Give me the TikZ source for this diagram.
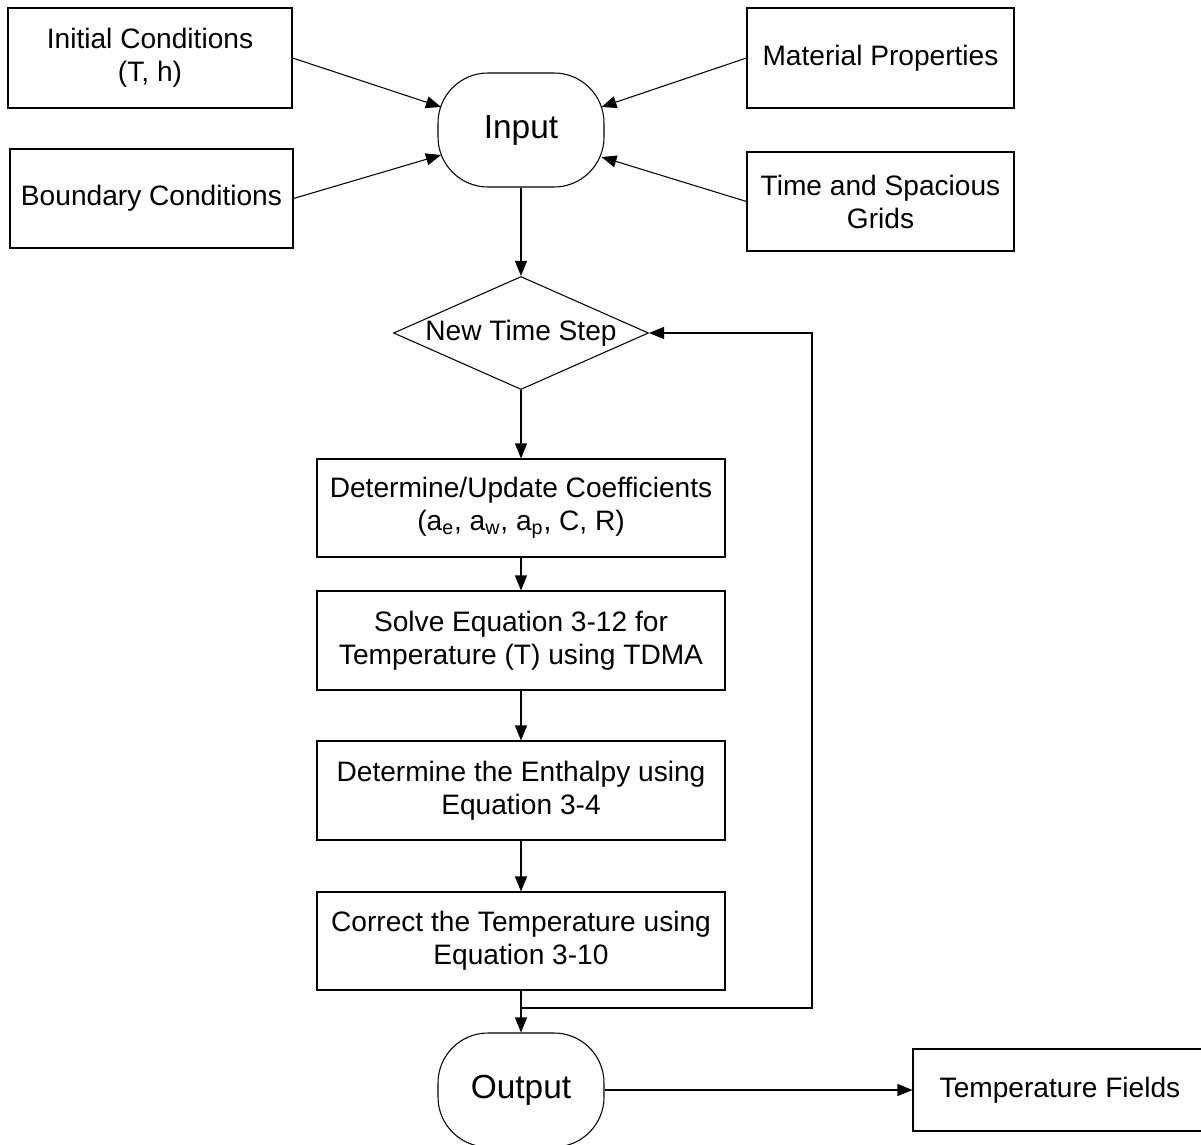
\documentclass[tikz,border=0pt]{standalone}
\usepackage{fontspec}
\setmainfont{Liberation Sans}
\usetikzlibrary{arrows.meta,shapes.geometric,calc}

\tikzset{
  box/.style={draw, line width=0.6pt, inner sep=0pt, align=center,
    font=\fontsize{16}{18.8}\selectfont},
  terminal/.style={draw, line width=0.6pt, rounded corners=1.0cm,
    minimum width=3.32cm, minimum height=2.28cm, font=\fontsize{19}{22}\selectfont},
  decision/.style={draw, line width=0.6pt, shape=diamond, aspect=2.26, inner sep=0pt,
    minimum width=5.10cm, minimum height=2.26cm, font=\fontsize{16}{18.8}\selectfont},
  arrow/.style={line width=0.6pt, -{Triangle[length=0.3cm,width=0.24cm]}}
}

\begin{document}
\begin{tikzpicture}
  \useasboundingbox (0,0) rectangle (24.02,-22.90);

  % Draw inputs
  \node (init) [box, minimum width=5.68cm, minimum height=2.0cm] at (3.00,-1.16) {Initial Conditions\\(T, h)};
  \node (bound) [box, minimum width=5.66cm, minimum height=1.98cm] at (3.03,-3.97) {Boundary Conditions};
  \node (mat) [box, minimum width=5.34cm, minimum height=2.0cm] at (17.61,-1.16) {Material Properties};
  \node (grid) [box, minimum width=5.34cm, minimum height=1.98cm] at (17.61,-4.03) {Time and Spacious\\Grids};
  \node (input) [terminal] at (10.42,-2.60) {Input};

  % Draw process
  \node (step) [decision] at (10.42,-6.66) {New Time Step};
  \node (coef) [box, minimum width=8.16cm, minimum height=1.96cm] at (10.42,-10.16)
    {Determine/Update Coefficients\\(a\textsubscript{e}, a\textsubscript{w}, a\textsubscript{p}, C, R)};
  \node (solve) [box, minimum width=8.16cm, minimum height=1.98cm] at (10.42,-12.81)
    {Solve Equation 3-12 for\\Temperature (T) using TDMA};
  \node (enth) [box, minimum width=8.16cm, minimum height=1.98cm] at (10.42,-15.81)
    {Determine the Enthalpy using\\Equation 3-4};
  \node (corr) [box, minimum width=8.16cm, minimum height=1.96cm] at (10.42,-18.82)
    {Correct the Temperature using\\Equation 3-10};
  \node (output) [terminal] at (10.42,-21.80) {Output};
  \node (tempf) [box, minimum width=5.88cm, minimum height=1.64cm] at (21.20,-21.80) {Temperature Fields};

  % Draw arrows into input
  \foreach \src/\dy in {init/0.46, bound/-0.50} {
    \draw[arrow] (\src.east) -- ($(input.west)+(0.07,\dy)$);
  }
  \foreach \src/\dy in {mat/0.46, grid/-0.54} {
    \draw[arrow] (\src.west) -- ($(input.east)+(-0.06,\dy)$);
  }

  % Draw main flow
  \foreach \a/\b in {input/step, step/coef, coef/solve, solve/enth, enth/corr, corr/output} {
    \draw[arrow] (\a.south) -- (\b.north);
  }

  % Draw loop back
  \coordinate (split) at (10.42,-20.16);
  \coordinate (back) at (16.24,-20.16);
  \draw[arrow] (split) -- (back) |- (step.east);

  % Draw result
  \draw[arrow] (output.east) -- (tempf.west);
\end{tikzpicture}
\end{document}
